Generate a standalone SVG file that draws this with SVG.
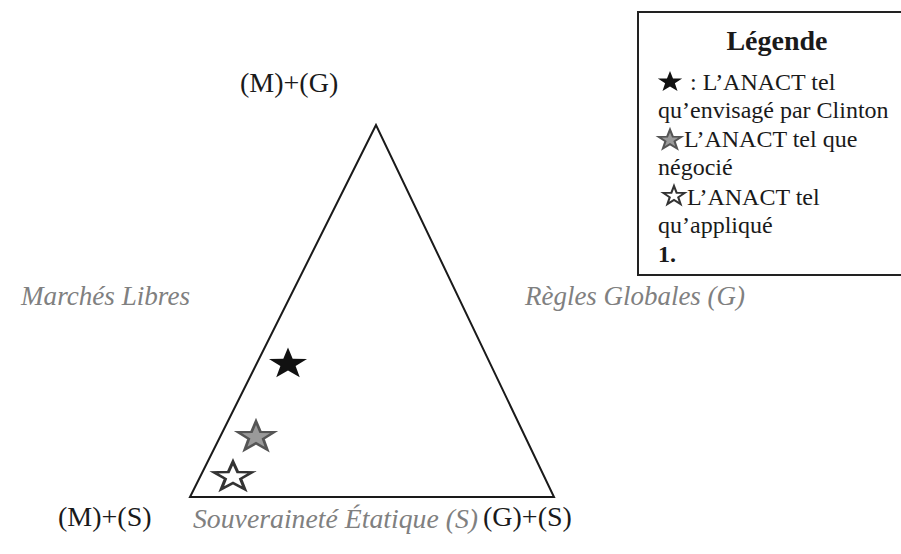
<svg xmlns="http://www.w3.org/2000/svg" xmlns:xlink="http://www.w3.org/1999/xlink" width="901" height="554" viewBox="0 0 901 554">
  <defs>
    <path id="star" d="M0,-20 L4.70,-6.47 L19.02,-6.18 L7.61,2.47 L11.76,16.18 L0,8 L-11.76,16.18 L-7.61,2.47 L-19.02,-6.18 L-4.70,-6.47 Z"/>
  </defs>
  <style>
    .serif { font-family: "Liberation Serif", "Times New Roman", serif; fill: #1a1a1a; }
    .axis { font-family: "Liberation Serif", "Times New Roman", serif; font-style: italic; fill: #808080; font-size: 27px; }
    .corner { font-size: 28px; }
    .leg { font-size: 24px; }
    .black { fill: #111; }
    .gray { fill: #9a9a9a; stroke: #555; stroke-width: 3; stroke-linejoin: miter; }
    .white { fill: #fff; stroke: #333; stroke-width: 3.2; stroke-linejoin: miter; }
  </style>
  <rect width="901" height="554" fill="#fff"/>

  <g id="connectors">
    <polygon points="376,125 190,497 554,497" fill="none" stroke="#1a1a1a" stroke-width="2" stroke-linejoin="miter"/>
  </g>

  <g id="corner-top"><text class="serif corner" x="240" y="92">(M)+(G)</text></g>
  <g id="corner-left"><text class="serif corner" x="58" y="526">(M)+(S)</text></g>
  <g id="corner-right"><text class="serif corner" x="483" y="526">(G)+(S)</text></g>

  <g id="axis-left"><text class="axis" x="21" y="305" textLength="169" lengthAdjust="spacingAndGlyphs">Marchés Libres</text></g>
  <g id="axis-right"><text class="axis" x="525" y="305" textLength="220" lengthAdjust="spacingAndGlyphs">Règles Globales (G)</text></g>
  <g id="axis-bottom"><text class="axis" x="193" y="528" textLength="285" lengthAdjust="spacingAndGlyphs">Souveraineté Étatique (S)</text></g>

  <g id="star-clinton"><use xlink:href="#star" class="black" transform="translate(288,364) scale(1,0.82)"/></g>
  <g id="star-negocie"><use xlink:href="#star" class="gray" transform="translate(256,437) scale(0.95,0.78)"/></g>
  <g id="star-applique"><use xlink:href="#star" class="white" transform="translate(233,477) scale(1,0.76)"/></g>

  <g id="legend">
    <rect x="638" y="12" width="280" height="263" fill="#fff" stroke="#222" stroke-width="2"/>
    <text class="serif" x="777" y="50" font-size="28" font-weight="bold" text-anchor="middle">Légende</text>
    <use xlink:href="#star" class="black" transform="translate(670,82) scale(0.64,0.55)"/>
    <text class="serif leg" x="690" y="90">: L’ANACT tel</text>
    <text class="serif leg" x="658" y="118">qu’envisagé par Clinton</text>
    <use xlink:href="#star" class="gray" style="stroke-width:3.5" transform="translate(670,140) scale(0.6,0.52)"/>
    <text class="serif leg" x="684" y="147">L’ANACT tel que</text>
    <text class="serif leg" x="658" y="175">négocié</text>
    <use xlink:href="#star" class="white" style="stroke-width:3.8" transform="translate(674,196) scale(0.56,0.5)"/>
    <text class="serif leg" x="687" y="205">L’ANACT tel</text>
    <text class="serif leg" x="658" y="233">qu’appliqué</text>
    <text class="serif leg" x="658" y="262" font-weight="bold">1.</text>
  </g>
</svg>
